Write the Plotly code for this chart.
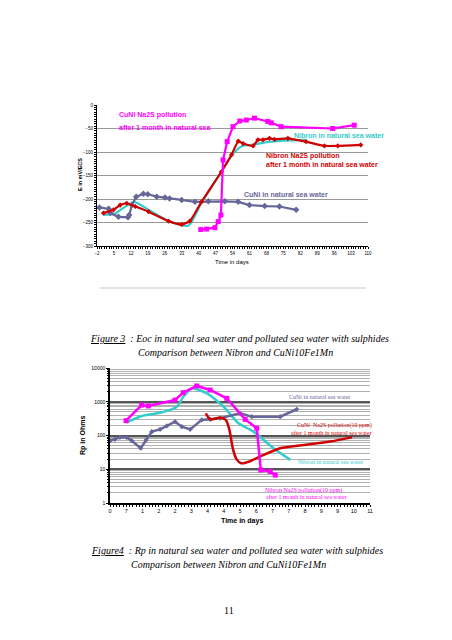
import plotly.graph_objects as go
import numpy as np

# page is 452x640; html body has an 8px margin, so the figure is 444x632 and offset by 8px
OFF = 8
W, H = 452 - OFF, 640 - OFF

# ---------------- Figure 3 data (E in mV/ECS vs days) ----------------
cuni_nat_day = [-1, 2.8, 3.5, 6.9, 10.8, 11.3, 12.4, 14.2, 17.2, 19, 22.7, 26.1, 28, 33, 38.5, 44, 50.8, 56.3, 61, 67.3, 73.4, 80.3]
cuni_nat_e = [-218, -221, -230, -238, -239, -234, -213, -195, -189, -190, -195, -197, -199, -202, -206, -205, -205, -206, -213, -215, -216, -223]

nib_pol_day = [0.7, 4.8, 7.6, 10.3, 13.8, 19.3, 27.5, 33, 36.4, 41.2, 49.4, 53.6, 56.4, 58.4, 62.5, 64.5, 66.6, 69.3, 71.4, 76.9, 84.4, 92, 97.5, 107]
nib_pol_e = [-230, -223, -213, -209, -216, -227, -247, -254, -247, -206, -142, -106, -77, -82, -87, -74, -74, -71, -73, -71, -78, -87, -87, -85]

nib_nat_day = [0.7, 5, 8, 11, 13.5, 20, 27, 35.7, 41, 49.4, 54, 58, 62, 67, 75, 84.4]
nib_nat_e = [-234, -232, -222, -212, -206, -225, -245, -257, -210, -142, -105, -87, -85, -80, -76, -74]

cuni_pol_day = [40.9, 43.3, 46.7, 48.1, 49.2, 50.1, 51.8, 54.2, 57, 59.7, 63.1, 68.6, 70, 74.1, 95.4, 104.3]
cuni_pol_e = [-265, -264, -261, -248, -234, -117, -78, -46, -34, -32, -28, -35, -38, -46, -50, -43]

top_xticks = [-2, 5, 12, 19, 26, 33, 40, 47, 54, 61, 68, 75, 82, 89, 96, 103, 110]
top_yticks = [0, -50, -100, -150, -200, -250, -300]

# ---------------- Figure 4 data (Rp in Ohms vs days) ----------------
cuni_nat_rp_day = [0, 0.21, 0.42, 0.71, 0.92, 1.3, 1.53, 1.77, 2.12, 2.4, 2.75, 3.04, 3.39, 3.88, 4.24, 4.66, 5.5, 6.0, 7.2, 7.9]
cuni_nat_rp = [70, 77, 88, 88, 70, 42, 74, 130, 152, 192, 257, 182, 152, 290, 300, 324, 456, 362, 362, 600]

nib_pol_rp_day = [0.68, 1.34, 1.62, 2.75, 3.1, 3.67, 4.24, 4.94, 5.72, 6.21, 6.38, 6.78, 6.99]
nib_pol_rp = [275, 800, 750, 1120, 1860, 2940, 2230, 1260, 300, 164, 9.5, 8.5, 6.7]

nib_nat_rp_day = [0.68, 1.34, 2.12, 2.83, 3.1, 3.46, 4.1, 4.8, 5.44, 6.07, 6.92, 7.63]
nib_nat_rp = [240, 380, 470, 715, 1400, 2500, 1780, 715, 230, 130, 42, 19]

cuni_pol_rp_day = [4.05, 4.25, 4.65, 4.9, 5.05, 5.2, 5.35, 5.55, 5.9, 6.36, 7.2, 8.2, 9.3, 10.24]
cuni_pol_rp = [455, 300, 340, 290, 150, 40, 20, 15, 17, 24, 42, 52, 66, 88]

bot_xtickvals = list(np.linspace(0, 11, 17))
bot_xticktext = ["0", "7", "1", "2", "2", "3", "4", "4", "5", "6", "7", "7", "8", "9", "9", "10", "11"]
bot_ytickvals = [1, 10, 100, 1000, 10000]
bot_yminor = [m * 10 ** k for k in range(4) for m in range(2, 10)]

SLATE = "#666699"
MAG = "#FF00FF"
CYAN = "#33CCCC"
RED = "#D00000"


def px(x):
    return (x - OFF) / W


def py(y):
    return 1 - (y - OFF) / H


fig = go.Figure()

# top chart traces
fig.add_trace(go.Scatter(x=nib_nat_day, y=nib_nat_e, mode="lines", line=dict(color=CYAN, width=2.2, shape="spline", smoothing=0.6), xaxis="x", yaxis="y"))
fig.add_trace(go.Scatter(x=cuni_nat_day, y=cuni_nat_e, mode="lines+markers", line=dict(color=SLATE, width=2.2), marker=dict(symbol="diamond", size=5, color=SLATE), xaxis="x", yaxis="y"))
fig.add_trace(go.Scatter(x=nib_pol_day, y=nib_pol_e, mode="lines+markers", line=dict(color=RED, width=2.2, shape="spline", smoothing=0.5), marker=dict(symbol="diamond", size=4, color=RED), xaxis="x", yaxis="y"))
fig.add_trace(go.Scatter(x=cuni_pol_day, y=cuni_pol_e, mode="lines+markers", line=dict(color=MAG, width=2.2), marker=dict(symbol="square", size=5, color=MAG), xaxis="x", yaxis="y"))

# bottom chart traces
fig.add_trace(go.Scatter(x=nib_nat_rp_day, y=nib_nat_rp, mode="lines", line=dict(color=CYAN, width=2.5, shape="spline", smoothing=0.6), xaxis="x2", yaxis="y2"))
fig.add_trace(go.Scatter(x=cuni_nat_rp_day, y=cuni_nat_rp, mode="lines+markers", line=dict(color=SLATE, width=2.5), marker=dict(symbol="diamond", size=4, color=SLATE), xaxis="x2", yaxis="y2"))
fig.add_trace(go.Scatter(x=cuni_pol_rp_day, y=cuni_pol_rp, mode="lines", line=dict(color=RED, width=2.5, shape="spline", smoothing=0.6), xaxis="x2", yaxis="y2"))
fig.add_trace(go.Scatter(x=nib_pol_rp_day, y=nib_pol_rp, mode="lines+markers", line=dict(color=MAG, width=2.5), marker=dict(symbol="square", size=5, color=MAG), xaxis="x2", yaxis="y2"))

tickfont_top = dict(family="Liberation Sans", size=4.5, color="#000")

fig.update_layout(
    template="none",
    width=W, height=H, autosize=False,
    margin=dict(l=0, r=0, t=0, b=0, pad=0),
    paper_bgcolor="white", plot_bgcolor="white",
    showlegend=False,
    font=dict(family="Liberation Sans", color="#000"),
    xaxis=dict(domain=[px(97), px(368)], range=[-2, 110], tickmode="array", tickvals=top_xticks,
               tickfont=tickfont_top, showgrid=False, zeroline=False, automargin=False,
               showline=True, linecolor="#000", linewidth=1.2,
               ticks="outside", ticklen=2, tickcolor="#000",
               minor=dict(dtick=1, ticklen=1.5, ticks="outside", tickcolor="#000", showgrid=False),
               anchor="y", fixedrange=True),
    yaxis=dict(domain=[py(246), py(105)], range=[-300, 0], tickmode="array", tickvals=top_yticks,
               tickfont=tickfont_top, showgrid=True, gridcolor="#999", gridwidth=1,
               zeroline=False, showline=True, linecolor="#000", linewidth=1.2, automargin=False,
               ticks="outside", ticklen=2, tickcolor="#000",
               minor=dict(dtick=5, ticklen=1.5, ticks="outside", tickcolor="#000", showgrid=False),
               anchor="x", fixedrange=True),
    xaxis2=dict(domain=[px(110), px(370)], range=[0, 11], tickmode="array", tickvals=bot_xtickvals, ticktext=bot_xticktext,
                tickfont=dict(family="Liberation Sans", size=5.5, color="#000"),
                showgrid=False, zeroline=False, showline=True, linecolor="#000", linewidth=1.5, automargin=False,
                ticks="outside", ticklen=2, tickcolor="#000",
                minor=dict(dtick=0.1375, ticklen=2, ticks="outside", tickcolor="#000", showgrid=False),
                anchor="y2", fixedrange=True),
    yaxis2=dict(domain=[py(503), py(368)], type="log", range=[0, 4], tickmode="array",
                tickvals=bot_ytickvals, ticktext=[str(v) for v in bot_ytickvals],
                tickfont=dict(family="Liberation Sans", size=5, color="#000"),
                showgrid=True, gridcolor="#555", gridwidth=1.8, automargin=False,
                zeroline=False, showline=True, linecolor="#000", linewidth=1.5,
                ticks="outside", ticklen=2, tickcolor="#000",
                minor=dict(tickmode="array", tickvals=bot_yminor, showgrid=True, gridcolor="#b0b0b0",
                           gridwidth=1, ticks="outside", ticklen=1.5, tickcolor="#000"),
                anchor="x2", fixedrange=True),
)

ann = []


def A(text, x, y, size, color="#000", family="Liberation Sans", xanchor="left", textangle=0):
    ann.append(dict(text=text, x=px(x), y=py(y), xref="paper", yref="paper", showarrow=False,
                    xanchor=xanchor, yanchor="middle", textangle=textangle,
                    font=dict(family=family, size=size, color=color)))


# top chart labels
A("<b>CuNi Na2S pollution</b>", 117, 115, 7, MAG)
A("<b>after 1 month in natural sea</b>", 117, 127, 7, MAG)
A("<b>Nibron in natural sea water</b>", 292, 136, 7, CYAN)
A("<b>Nibron Na2S pollution</b>", 264, 156, 7, RED)
A("<b>after 1 month in natural sea water</b>", 264, 164, 7, RED)
A("<b>CuNi in natural sea water</b>", 242, 194, 7, SLATE)
A("<b>E in mV/ECS</b>", 80, 175, 5.5, "#000", xanchor="center", textangle=-90)
A("Time in days", 232, 262, 6, "#000", xanchor="center")

# bottom chart labels
SER = "Liberation Serif"
A("CuNi in natural sea water", 287, 397, 6, SLATE, SER)
A("CuNi  Na2S pollution(10 ppm)", 295, 425, 6, RED, SER)
A("after 1 month in natural sea water", 289, 433, 6, RED, SER)
A("Nibron in natural sea water", 296, 462, 6, CYAN, SER)
A("Nibron Na2S pollution(10 ppm)", 263, 490, 6, MAG, SER)
A("after 1 month in natural sea water", 264, 497, 6, MAG, SER)
A("<b>Rp in Ohms</b>", 83, 436, 7, "#000", xanchor="center", textangle=-90)
A("<b>Time in days</b>", 242, 521, 7, "#000", xanchor="center")

# captions
A("<i><u>Figure 3</u>  : Eoc in natural sea water and polluted sea water with sulphides</i>", 88, 338, 10, "#000", SER)
A("<i>Comparison between Nibron and CuNi10Fe1Mn</i>", 136, 352, 10, "#000", SER)
A("<i><u>Figure4</u>  : Rp in natural sea water and polluted sea water with sulphides</i>", 89, 550, 10, "#000", SER)
A("<i>Comparison between Nibron and CuNi10Fe1Mn</i>", 129, 564, 10, "#000", SER)
A("11", 229, 610, 10, "#000", SER, xanchor="center")

fig.update_layout(annotations=ann)

fig.add_shape(type="line", xref="paper", yref="paper", x0=px(100), x1=px(366), y0=py(288), y1=py(288),
              line=dict(color="#c8c8c8", width=1))

fig.write_html("out.html")
